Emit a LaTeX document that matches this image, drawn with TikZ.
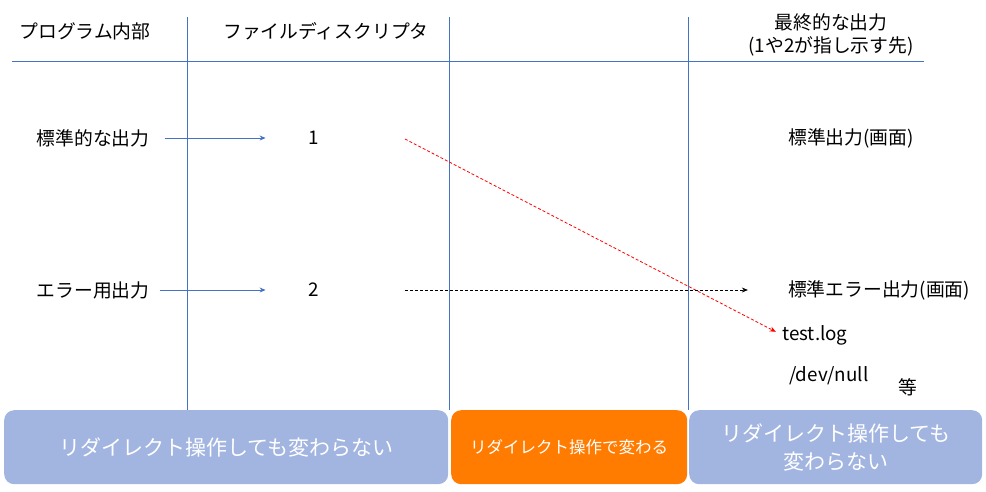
\documentclass[tikz,border=0pt]{standalone}
\usepackage{fontspec}
\setmainfont{Noto Sans CJK JP}
\usetikzlibrary{arrows.meta}
\tikzset{>={Stealth[length=6pt,width=5pt]}}
\definecolor{lineblue}{HTML}{4472C4}
\definecolor{boxblue}{HTML}{A2B4E0}
\definecolor{boxorange}{HTML}{FF7C00}
\tikzset{
  txt/.style={font=\fontsize{18.8}{23}\selectfont, inner sep=0pt},
  rule/.style={draw=lineblue, line width=0.8pt},
  feed/.style={->, draw=lineblue, line width=0.8pt},
  hop/.style={->, line width=0.8pt, dash pattern=on 3pt off 2pt},
  band/.style={rounded corners=10pt, text=white, inner sep=0pt, align=center,
    anchor=north west, minimum height=74pt, font=\fontsize{21}{28}\selectfont},
}
\begin{document}
\begin{tikzpicture}[x=1pt, y=-1pt]
\useasboundingbox (0,0) rectangle (986,491);
% table lines
\draw[rule] (12,61) -- (924,61);
\draw[rule] (187,17) -- (187,410);
\draw[rule] (449,17) -- (449,410);
\draw[rule] (688,17) -- (688,410);
% headers
\node[txt] (inner) at (85,31) {プログラム内部};
\node[txt] (fdhead) at (326,31) {ファイルディスクリプタ};
\node[txt, align=center] (dest) at (831,35) {最終的な出力\\(1や2が指し示す先)};
% rows
\node[txt] (stdout) at (93,138) {標準的な出力};
\node[txt] (fd1) at (314,138) {1};
\node[txt] (stderr) at (93,290) {エラー用出力};
\node[txt] (fd2) at (314,290) {2};
\node[txt] (screen) at (851,138) {標準出力(画面)};
\node[txt] (errscreen) at (879,290) {標準エラー出力(画面)};
\node[txt, anchor=west] (logfile) at (782,335) {test.log};
\node[txt, anchor=west] (null) at (789,376) {/dev/null};
\node[txt] (etc) at (908,387) {等};
\coordinate (fd1out) at (405,139);
\coordinate (fd2out) at (405,290);
% arrows
\draw[feed, shorten <=15pt, shorten >=43pt] (stdout.east) -- (fd1.west);
\draw[feed, shorten <=10pt, shorten >=43pt] (stderr.east) -- (fd2.west);
\draw[hop, red, shorten >=7pt] (fd1out) -- (logfile.west);
\draw[hop, shorten >=40pt] (fd2out) -- (errscreen.west);
% bands
\node[band, fill=boxblue, minimum width=444pt] (keepleft) at (4,410) {リダイレクト操作しても変わらない};
\node[band, fill=boxorange, minimum width=236pt, font=\fontsize{16.5}{20}\selectfont] (change) at (451,410) {リダイレクト操作で変わる};
\node[band, fill=boxblue, minimum width=293pt] (keepright) at (689,410) {リダイレクト操作しても\\変わらない};
\end{tikzpicture}
\end{document}
